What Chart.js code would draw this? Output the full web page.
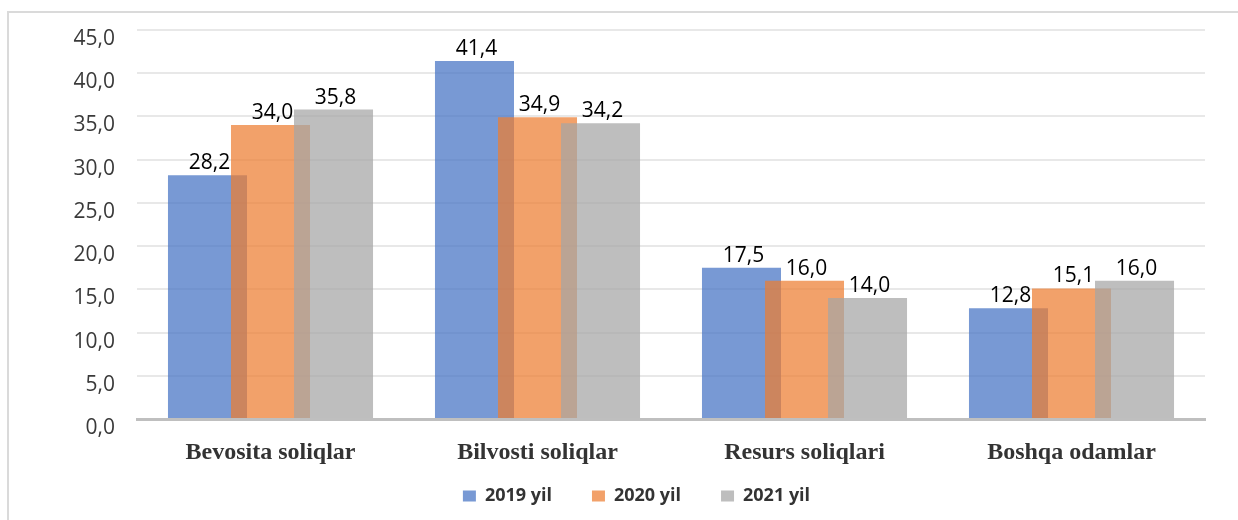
<!DOCTYPE html>
<html>
<head>
<meta charset="utf-8">
<script src="https://cdn.jsdelivr.net/npm/chart.js@4.4.0/dist/chart.umd.min.js"></script>
<style>
  html, body { margin: 0; padding: 0; background: #fff; }
  .frame {
    position: absolute; left: 7px; top: 11px;
    width: 1231px; height: 509px;
    border-left: 2px solid #dadada; border-top: 2px solid #dadada;
  }
  .frame canvas { display: block; }
</style>
</head>
<body>
<div class="frame">
  <canvas id="chart" width="1229" height="507"></canvas>
</div>
<script>
// values
const categories = ['Bevosita soliqlar', 'Bilvosti soliqlar', 'Resurs soliqlari', 'Boshqa odamlar'];
const seriesNames = ['2019 yil', '2020 yil', '2021 yil'];
const values2019 = [28.2, 41.4, 17.5, 12.8];
const values2020 = [34.0, 34.9, 16.0, 15.1];
const values2021 = [35.8, 34.2, 14.0, 16.0];
const yTicks = [0, 5, 10, 15, 20, 25, 30, 35, 40, 45];

const colors = ['rgba(68,114,196,0.72)', 'rgba(237,125,49,0.72)', 'rgba(165,165,165,0.72)'];

const fmt = v => v.toFixed(1).replace('.', ',');

// Excel draws later series on top, chart.js the other way round
const drawInOrder = {
  id: 'drawInOrder',
  beforeDatasetsDraw(chart) {
    for (let i = 0; i < chart.data.datasets.length; i++) {
      const meta = chart.getDatasetMeta(i);
      if (meta.visible) meta.controller.draw();
    }
    return false;
  }
};

const valueLabels = {
  id: 'valueLabels',
  afterDraw(chart) {
    const ctx = chart.ctx;
    ctx.save();
    ctx.font = '21px "Open Sans"';
    ctx.fillStyle = '#000';
    ctx.textAlign = 'center';
    ctx.textBaseline = 'alphabetic';
    chart.data.datasets.forEach((ds, i) => {
      chart.getDatasetMeta(i).data.forEach((bar, j) => {
        ctx.fillText(fmt(ds.data[j]), bar.x + 2, bar.y - 6);
      });
    });
    ctx.restore();
  }
};

const allValues = [values2019, values2020, values2021];

new Chart(document.getElementById('chart'), {
  type: 'bar',
  data: {
    labels: categories,
    datasets: seriesNames.map((name, i) => ({
      label: name,
      data: allValues[i],
      backgroundColor: colors[i],
      borderWidth: 0,
      categoryPercentage: 0.708,
      barPercentage: 1.254
    }))
  },
  options: {
    responsive: false,
    animation: false,
    layout: { padding: { left: 59, right: 33, top: 0, bottom: 5 } },
    plugins: {
      legend: {
        position: 'bottom',
        labels: {
          boxWidth: 13,
          boxHeight: 11,
          padding: 40,
          color: '#333',
          font: { family: 'Open Sans', size: 18, weight: 'bold' }
        }
      },
      tooltip: { enabled: false }
    },
    scales: {
      x: {
        grid: { display: false, drawTicks: false },
        border: { color: '#bfbfbf', width: 3 },
        ticks: {
          // mirror keeps the labels from being clipped to the short axis box
          mirror: true,
          padding: -48,
          color: '#333',
          font: { family: 'Liberation Serif', size: 24, weight: 'bold' }
        },
        afterFit(scale) { scale.height = 28; }
      },
      y: {
        min: 0,
        max: 45,
        afterBuildTicks(scale) { scale.ticks = yTicks.map(v => ({ value: v })); },
        grid: { color: '#e8e8e8', lineWidth: 2, drawTicks: false },
        border: { display: false },
        ticks: {
          padding: 22,
          labelOffset: 9,
          color: '#3a3a3a',
          font: { family: 'Open Sans', size: 21 },
          callback: v => fmt(v)
        },
        afterFit(scale) {
          scale.width = 69;
          scale.paddingTop = 17;
          scale.paddingBottom = 0;
        }
      }
    }
  },
  plugins: [drawInOrder, valueLabels]
});
</script>
</body>
</html>
